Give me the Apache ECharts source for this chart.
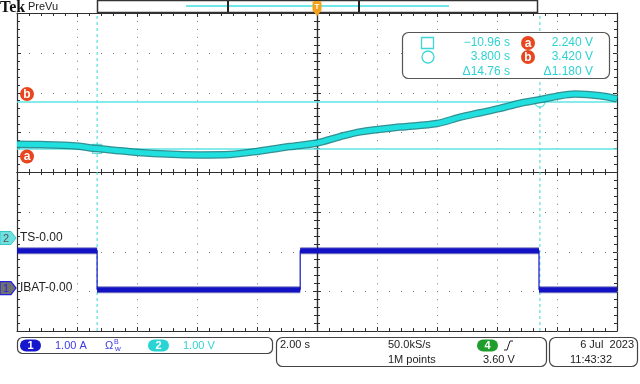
<!DOCTYPE html>
<html><head><meta charset="utf-8">
<script src="https://cdn.jsdelivr.net/npm/echarts/dist/echarts.min.js"></script>
<style>html,body{margin:0;padding:0;background:#fff}#c{width:640px;height:384px}</style>
</head><body><div id="c"></div>
<script>
// ---- data ----
const timeRange = [-13.63, 6.37];      // s, left / right edge of screen
const ch2Range = [-2.34, 5.66];        // V (1.00 V/div, 8 div)
const ch1Range = [-1.08, 6.92];        // A (1.00 A/div, 8 div)
const tsTimes = [-13.63,-12.86,-11.76,-10.96,-9.86,-8.86,-7.53,-6.53,-5.53,-4.53,-3.63,-2.86,-2.19,-0.86,0.37,1.14,1.81,2.47,3.14,3.81,4.47,4.97,5.81,6.37];
const tsVolts = [2.36,2.35,2.32,2.25,2.17,2.12,2.09,2.10,2.19,2.30,2.39,2.55,2.67,2.79,2.88,3.04,3.15,3.26,3.39,3.48,3.58,3.62,3.58,3.50];
const ibatEdges = [-13.63,-10.96,-4.19,3.77,6.37];   // s
const ibatLevels = [0.94,-0.04,0.94,-0.04];          // A
const cursorTimes = [-10.96, 3.80];
const cursorVolts = [2.240, 3.420];
const cursorNames = ['a','b'];
const chLabels = ['IBAT-0.00','TS-0.00'];
const readTimes = ['\u221210.96 s','3.800 s','\u039414.76 s'];
const readVolts = ['2.240 V','3.420 V','\u03941.180 V'];

// ---- layout / style ----
const G = {left:17, top:13, width:600, height:318};
const HW = G.width/2, HH = G.height/2;
const FR = '#2e2e2e', DOT = '#7c7c7c';
const CY = '#1fdfdf', CYL = '#5fe4e4', CUR = '#3fd6d6', BL = '#1212c4', RED = '#e8461e';
const F = '"Liberation Sans", Arial, sans-serif';
function ax(gi, pos, max){
  return {type:'value', gridIndex:gi, min:0, max:max, interval:1, position:pos,
    axisLine:{show:true, onZero:false, lineStyle:{color:FR, width:1.2}},
    axisTick:{show:false}, minorTick:{show:false}, axisLabel:{show:false}, splitLine:{show:false}};
}
const grids = [
  {left:G.left, top:G.top, width:G.width, height:G.height},
  {left:G.left, top:G.top, width:G.width, height:G.height},
  {left:G.left, top:G.top, width:HW, height:HH},
  {left:G.left+HW, top:G.top+HH, width:HW, height:HH},
  {left:G.left+HW, top:G.top, width:HW, height:HH},
  {left:G.left, top:G.top+HH, width:HW, height:HH}
];
const XT = 6, YV = 6, YA = 7;   // data axes
// graticule description (in divisions): [orientation, position]; 0 = horizontal line at y, 1 = vertical line at x
const dotLines = [[1,1],[1,2],[1,3],[1,4],[1,6],[1,7],[1,8],[1,9],[0,1],[0,2],[0,3],[0,5],[0,6],[0,7]];
const tickLines = [[0,0],[0,8],[0,4],[1,0],[1,10],[1,5]];

function renderDots(params, api){
  const o = api.value(0), k = api.value(1);
  if (o === 0) {
    const a = api.coord([0,k]), b = api.coord([10,k]);
    const y = Math.round(a[1]) + 0.5;
    return {type:'line', silent:true, shape:{x1:a[0], y1:y, x2:b[0]+1, y2:y}, style:{stroke:DOT, lineWidth:1, lineDash:[1,11]}};
  }
  const a = api.coord([k,0]), b = api.coord([k,8]);
  const x = Math.round(a[0]) + 0.5;
  return {type:'line', silent:true, shape:{x1:x, y1:b[1], x2:x, y2:a[1]+1}, style:{stroke:DOT, lineWidth:1, lineDash:[1,6.95]}};
}
function renderTicks(params, api){
  const o = api.value(0), k = api.value(1);
  const ch = [];
  if (o === 0) {
    for (let m = 0; m <= 50; m++) {
      const p = api.coord([m/5, k]);
      const x = Math.round(p[0]) + 0.5, y = p[1], L = (m % 5 === 0) ? 4 : 3;
      const y1 = k === 8 ? y : y - L, y2 = k === 0 ? y : y + L;
      ch.push({type:'line', silent:true, shape:{x1:x, y1:y1, x2:x, y2:y2}, style:{stroke:FR, lineWidth:1}});
    }
  } else {
    for (let m = 0; m <= 40; m++) {
      const p = api.coord([k, m/5]);
      const y = Math.round(p[1]) + 0.5, x = p[0], L = (m % 5 === 0) ? 4 : 3;
      const x1 = k === 0 ? x : x - L, x2 = k === 10 ? x : x + L;
      ch.push({type:'line', silent:true, shape:{x1:x1, y1:y, x2:x2, y2:y}, style:{stroke:FR, lineWidth:1}});
    }
  }
  return {type:'group', children:ch};
}

// ---- series ----
const series = [];
series.push({type:'custom', xAxisIndex:0, yAxisIndex:0, data:dotLines, renderItem:renderDots, silent:true, clip:false, animation:false});
series.push({type:'custom', xAxisIndex:0, yAxisIndex:0, data:tickLines, renderItem:renderTicks, silent:true, clip:false, animation:false});
function lineS(data, yIdx, style, extra){
  return Object.assign({type:'line', xAxisIndex:XT, yAxisIndex:yIdx, data:data, showSymbol:false,
    silent:true, animation:false, lineStyle:style}, extra||{});
}
cursorTimes.forEach(t=>series.push(lineS([[t, ch2Range[0]],[t, ch2Range[1]]], YV, {color:CUR, width:1, type:[3,3]})));
cursorVolts.forEach(v=>series.push(lineS([[timeRange[0], v],[timeRange[1], v]], YV, {color:CYL, width:1.5})));
// IBAT
const ibatStep = [];
ibatLevels.forEach((lv,i)=>{ ibatStep.push([ibatEdges[i], lv]); ibatStep.push([ibatEdges[i+1], lv]); });
series.push(lineS(ibatStep, YA, {color:BL, width:1.2}));
ibatLevels.forEach((lv,i)=>{
  const seg = [[ibatEdges[i], lv],[ibatEdges[i+1], lv]];
  series.push(lineS(seg, YA, {color:'#0a0a8a', width:7, opacity:0.5}));
  series.push(lineS(seg, YA, {color:BL, width:5}));
});
// TS
const tsData = tsTimes.map((t,i)=>[t, tsVolts[i]]);
series.push(lineS(tsData, YV, {color:'#0f7d80', width:7.5, opacity:0.85}, {smooth:0.3}));
series.push(lineS(tsData, YV, {color:CY, width:5}, {smooth:0.3}));
// cursor points
series.push({type:'scatter', xAxisIndex:XT, yAxisIndex:YV, silent:true, animation:false,
  data:[{value:[cursorTimes[0], cursorVolts[0]], symbol:'rect', symbolSize:9},
        {value:[cursorTimes[1], cursorVolts[1]], symbol:'circle', symbolSize:10}],
  itemStyle:{color:'rgba(0,0,0,0)', borderColor:CUR, borderWidth:1.2}});

const chart = echarts.init(document.getElementById('c'));
chart.setOption({
  animation:false,
  grid:grids,
  xAxis:[
    ax(0,'bottom',10), ax(1,'top',10),
    ax(2,'bottom',5), ax(3,'top',5), ax(4,'bottom',5), ax(5,'top',5),
    {type:'value', gridIndex:0, min:timeRange[0], max:timeRange[1], show:false}
  ],
  yAxis:[
    ax(0,'left',8), ax(1,'right',8),
    ax(2,'right',4), ax(3,'left',4), ax(4,'left',4), ax(5,'right',4),
    {type:'value', gridIndex:0, min:ch2Range[0], max:ch2Range[1], show:false},
    {type:'value', gridIndex:0, min:ch1Range[0], max:ch1Range[1], show:false}
  ],
  series:series
});

// ---- decorations / readouts ----
function py(v, r){ return G.top + G.height*(r[1]-v)/(r[1]-r[0]); }
const y2 = py(0, ch2Range), y1 = py(0, ch1Range);
const xTrig = G.left + G.width/2;
function txt(x,y,t,fill,size,align,weight,family){
  return {type:'text', x:x, y:y, z:100, silent:true,
    style:{text:t, fill:fill, font:(weight||'normal')+' '+size+'px '+(family||F), align:align||'left', verticalAlign:'middle'}};
}
function pill(x,y,w,h,fill,t,tc){
  return [{type:'rect', z:99, silent:true, shape:{x:x,y:y,width:w,height:h,r:h/2}, style:{fill:fill}},
          txt(x+w/2, y+h/2+0.5, t, tc||'#fff', 11, 'center', 'bold')];
}
function dot(cx,cy,t){
  return [{type:'circle', z:99, silent:true, shape:{cx:cx,cy:cy,r:7}, style:{fill:RED}},
          txt(cx, cy+0.5, t, '#fff', 12, 'center', 'bold')];
}
const pent = [[0,-6.5],[11,-6.5],[16,0],[11,6.5],[0,6.5]];
const g = [];
g.push(...dot(27, py(cursorVolts[0], ch2Range)+7.5, cursorNames[0]));
g.push(...dot(27, py(cursorVolts[1], ch2Range)-8, cursorNames[1]));
// top bar
g.push(txt(0, 8, 'Tek', '#111', 16, 'left', 'bold', '"Liberation Serif", serif'));
g.push(txt(28, 7, 'PreVu', '#222', 11, 'left'));
g.push({type:'rect', z:90, silent:true, shape:{x:97.5,y:0.5,width:440,height:12}, style:{fill:'#fff', stroke:'#333', lineWidth:1.5}});
g.push({type:'line', z:91, silent:true, shape:{x1:186,y1:6,x2:449,y2:6}, style:{stroke:'#6ee8e8', lineWidth:2}});
g.push({type:'line', z:92, silent:true, shape:{x1:228,y1:1,x2:228,y2:12}, style:{stroke:'#222', lineWidth:2}});
g.push({type:'line', z:92, silent:true, shape:{x1:359,y1:1,x2:359,y2:12}, style:{stroke:'#222', lineWidth:2}});
g.push({type:'rect', z:95, silent:true, shape:{x:xTrig-4.5,y:1,width:9,height:11,r:2}, style:{fill:'#f4a21e'}});
g.push({type:'polygon', z:95, silent:true, shape:{points:[[xTrig-4,11],[xTrig+4,11],[xTrig,16]]}, style:{fill:'#f4a21e'}});
g.push(txt(xTrig, 7, 'T', '#fff', 8, 'center', 'bold'));
// channel ground markers
g.push({type:'polygon', z:95, silent:true, x:0, y:y2, shape:{points:pent}, style:{fill:'#6fe0e0', stroke:'#38c8c8', lineWidth:1}});
g.push(txt(6, y2+0.5, '2', '#555', 11, 'center'));
g.push(txt(20, y2, chLabels[1], '#222', 12, 'left'));
g.push({type:'polygon', z:95, silent:true, x:0, y:y1, shape:{points:pent}, style:{fill:'#707070', stroke:'#2222dd', lineWidth:1.2}});
g.push(txt(6, y1+0.5, '1', '#2222dd', 11, 'center'));
g.push(txt(20, y1, chLabels[0], '#222', 12, 'left'));
// cursor readout box
g.push({type:'rect', z:96, silent:true, shape:{x:402.5,y:32.5,width:207,height:46,r:6}, style:{fill:'#fff', stroke:'#555', lineWidth:1.2}});
g.push({type:'rect', z:97, silent:true, shape:{x:421.5,y:37.5,width:12,height:11}, style:{fill:'none', stroke:CUR, lineWidth:1.3}});
g.push({type:'circle', z:97, silent:true, shape:{cx:428,cy:57,r:6}, style:{fill:'none', stroke:CUR, lineWidth:1.3}});
const rowsY = [43, 57, 72];
readTimes.forEach((t,i)=>g.push(txt(510, rowsY[i], t, '#2fd2d2', 12, 'right')));
readVolts.forEach((t,i)=>g.push(txt(593, rowsY[i], t, '#2fd2d2', 12, 'right')));
g.push(...dot(528, rowsY[0], cursorNames[0]));
g.push(...dot(528, rowsY[1], cursorNames[1]));
// bottom readouts
g.push({type:'rect', z:96, silent:true, shape:{x:17.5,y:337.5,width:255,height:16,r:5}, style:{fill:'#fff', stroke:'#444', lineWidth:1.2}});
g.push(...pill(20,339.5,21,12,'#1616cc','1'));
g.push(txt(55, 346, '1.00 A', '#3b3be0', 11, 'left'));
g.push(txt(105, 346, '\u03A9', '#3b3be0', 11, 'left'));
g.push(txt(114, 342.5, 'B', '#3b3be0', 7, 'left'));
g.push(txt(115, 349, 'w', '#3b3be0', 8, 'left'));
g.push(...pill(148,339.5,21,12,'#2ad4d4','2'));
g.push(txt(183, 346, '1.00 V', '#33d0d0', 11, 'left'));
g.push({type:'rect', z:96, silent:true, shape:{x:276.5,y:337.5,width:270,height:29,r:6}, style:{fill:'#fff', stroke:'#444', lineWidth:1.2}});
g.push(txt(280, 345, '2.00 s', '#222', 11, 'left'));
g.push(txt(388, 345, '50.0kS/s', '#222', 11, 'left'));
g.push(txt(388, 360, '1M points', '#222', 11, 'left'));
g.push(...pill(477,339.5,21,12,'#1f9e2e','4'));
g.push({type:'polyline', z:99, silent:true, shape:{points:[[504,350],[507,350],[510,341],[513,341]]}, style:{stroke:'#222', lineWidth:1, fill:null}});
g.push(txt(483, 360, '3.60 V', '#222', 11, 'left'));
g.push({type:'rect', z:96, silent:true, shape:{x:549.5,y:337.5,width:88,height:29,r:6}, style:{fill:'#fff', stroke:'#444', lineWidth:1.2}});
g.push(txt(634, 345, '6 Jul  2023', '#222', 11, 'right'));
g.push(txt(570, 360, '11:43:32', '#222', 11, 'left'));
chart.setOption({graphic:g});
</script>
</body></html>
